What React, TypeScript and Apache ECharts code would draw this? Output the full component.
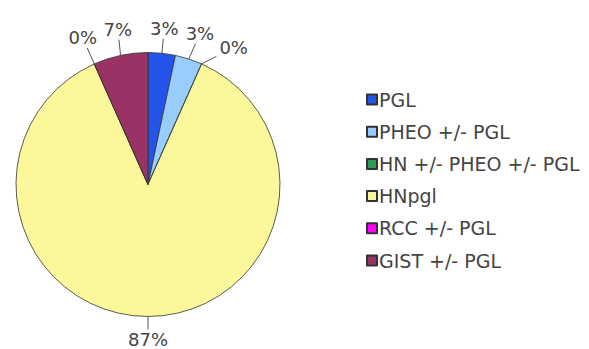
import React, { useEffect, useRef } from "react";
import * as echarts from "echarts";

const categories = ["PGL", "PHEO +/- PGL", "HN +/- PHEO +/- PGL", "HNpgl", "RCC +/- PGL", "GIST +/- PGL"];
const values = [1, 1, 0, 26, 0, 2];
const colors = ["#2253ea", "#99ccff", "#2e9a55", "#fbf79b", "#ff00ff", "#993366"];

const CX = 140;
const CY = 176.5;
const R = 132;
const LABEL_FONT = 18;
const GAP = 14;

function computeLabels(total: number) {
  const ctx = document.createElement("canvas").getContext("2d")!;
  ctx.font = `${LABEL_FONT}px "DejaVu Sans"`;
  const texts = values.map((v) => Math.round((v / total) * 100) + "%");
  const placed: { x: number; y: number; hw: number; hh: number }[] = [];
  const out: { x: number; y: number; line: number[][] }[] = [];
  let acc = 0;
  values.forEach((v, i) => {
    const mid = ((acc + v / 2) / total) * 2 * Math.PI;
    acc += v;
    const w = ctx.measureText(texts[i]).width;
    const hw = w / 2 + 1;
    const hh = LABEL_FONT / 2;
    const posAt = (a: number) => {
      const s = Math.sin(a);
      const c = Math.cos(a);
      const ext = Math.abs(s) * hw + Math.abs(c) * hh;
      const r = R + GAP + ext;
      return { x: CX + r * s, y: CY - r * c };
    };
    let a = mid;
    let p = posAt(a);
    for (let k = 0; k < 60; k++) {
      const hit = placed.find(
        (q) => Math.abs(q.x - p.x) < q.hw + hw + 3 && Math.abs(q.y - p.y) < q.hh + hh + 2
      );
      if (!hit) break;
      a += (Math.PI / 180) * 1;
      p = posAt(a);
    }
    placed.push({ x: p.x, y: p.y, hw, hh });
    const p0 = { x: CX + R * Math.sin(mid), y: CY - R * Math.cos(mid) };
    const vx = p0.x - p.x;
    const vy = p0.y - p.y;
    const t = Math.min((hw + 2) / Math.max(Math.abs(vx), 1e-6), (hh + 1) / Math.max(Math.abs(vy), 1e-6));
    const pe = { x: p.x + vx * t, y: p.y + vy * t };
    out.push({
      x: p.x,
      y: p.y,
      line: [
        [p0.x, p0.y],
        [(p0.x + pe.x) / 2, (p0.y + pe.y) / 2],
        [pe.x, pe.y],
      ],
    });
  });
  return { out, texts };
}

export default function App() {
  const ref = useRef<HTMLDivElement>(null);
  useEffect(() => {
    const chart = echarts.init(ref.current!, null, { renderer: "svg" });
    const total = values.reduce((a, b) => a + b, 0);
    const { out, texts } = computeLabels(total);
    chart.setOption({
      animation: false,
      backgroundColor: "#ffffff",
      legend: {
        orient: "vertical",
        left: 353,
        top: 77,
        itemWidth: 10,
        itemHeight: 10,
        itemGap: 13.2,
        icon: "rect",
        textStyle: {
          fontFamily: "DejaVu Sans",
          fontSize: 19,
          lineHeight: 19,
          color: "#444",
          padding: [0, 0, 0, -3],
        },
        data: categories,
      },
      series: [
        {
          type: "pie",
          center: [CX, CY],
          radius: R,
          startAngle: 90,
          clockwise: true,
          stillShowZeroSum: true,
          minShowLabelAngle: -1,
          avoidLabelOverlap: false,
          itemStyle: { borderColor: "#333", borderWidth: 0.8 },
          label: {
            show: true,
            formatter: (p: any) => texts[p.dataIndex],
            fontFamily: "DejaVu Sans",
            fontSize: LABEL_FONT,
            color: "#444",
          },
          labelLine: { show: true, length: 10, length2: 4, lineStyle: { color: "#555", width: 1 } },
          labelLayout: (params: any) => {
            const o = out[params.dataIndex];
            return {
              x: o.x,
              y: o.y,
              align: "center",
              verticalAlign: "middle",
              labelLinePoints: o.line,
            };
          },
          data: categories.map((c, i) => ({ name: c, value: values[i], itemStyle: { color: colors[i] } })),
        },
      ],
    });
    return () => chart.dispose();
  }, []);
  return <div ref={ref} style={{ width: 573, height: 341 }} />;
}
